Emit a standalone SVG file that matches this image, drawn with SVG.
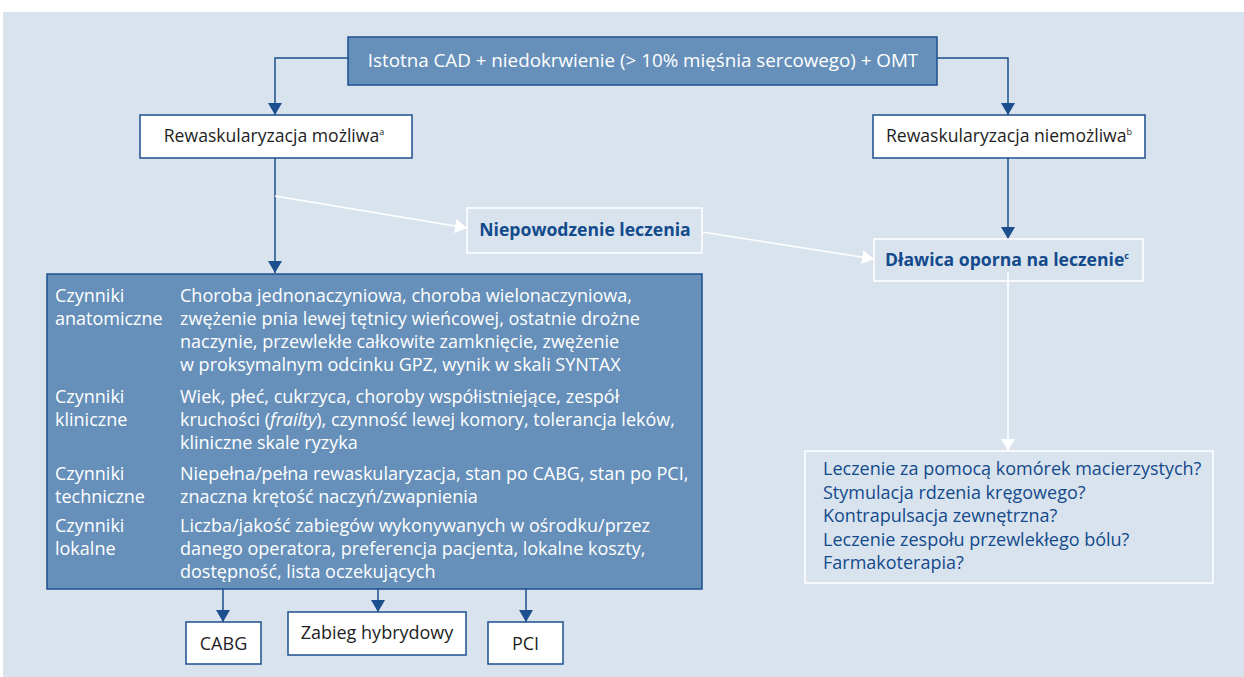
<svg xmlns="http://www.w3.org/2000/svg" width="1244" height="677" viewBox="0 0 1244 677">
<style>
text{font-family:"Open Sans","Noto Sans","DejaVu Sans",sans-serif;font-size:18px}
.dark{fill:#6690b9;stroke:#1d4f8e;stroke-width:1.5}
.white{fill:#ffffff;stroke:#1d4f8e;stroke-width:1.5}
.outl{fill:none;stroke:#ffffff;stroke-width:1.5}
.wt{fill:#ffffff}
.bk{fill:#1e1e1e}
.bl{fill:#134a8c}
.bold{font-weight:bold;font-size:17.6px}
.mid{font-size:17.6px}
.top{font-size:18.8px}
.cb{stroke:#1d4f8e;stroke-width:1.5;fill:none}
.cw{stroke:#ffffff;stroke-width:1.5;fill:none}
.sup{font-size:9px}
</style>
<defs>
<marker id="ab" viewBox="0 0 12 14" refX="12" refY="7" markerWidth="12" markerHeight="14" markerUnits="userSpaceOnUse" orient="auto"><path d="M0,0 L12,7 L0,14 Z" fill="#1d4f8e"/></marker>
<marker id="aw" viewBox="0 0 12 14" refX="12" refY="7" markerWidth="12" markerHeight="14" markerUnits="userSpaceOnUse" orient="auto"><path d="M0,0 L12,7 L0,14 Z" fill="#ffffff"/></marker>
</defs>
<rect x="3" y="12" width="1241" height="665" fill="#d9e3ee"/>
<g id="connectors">
<path class="cb" d="M348,58 H275 V115" marker-end="url(#ab)"/>
<path class="cb" d="M937,58 H1008 V115" marker-end="url(#ab)"/>
<path class="cb" d="M275,158 V273" marker-end="url(#ab)"/>
<path class="cb" d="M1008,158 V239" marker-end="url(#ab)"/>
<path class="cw" d="M275,196 L467,228" marker-end="url(#aw)"/>
<path class="cw" d="M702,232 L874,259" marker-end="url(#aw)"/>
<path class="cw" d="M1008,272 V451" marker-end="url(#aw)"/>
<path class="cb" d="M223,589 V622" marker-end="url(#ab)"/>
<path class="cb" d="M378,589 V612" marker-end="url(#ab)"/>
<path class="cb" d="M526,589 V622" marker-end="url(#ab)"/>
</g>
<g id="start">
<rect class="dark" x="348" y="37" width="589" height="48"/>
<text class="wt top" x="643" y="67" text-anchor="middle">Istotna CAD + niedokrwienie (&gt; 10% mięśnia sercowego) + OMT</text>
</g>
<g id="possible">
<rect class="white" x="140" y="115" width="272" height="43"/>
<text class="bk mid" x="274" y="142" text-anchor="middle">Rewaskularyzacja możliwa<tspan class="sup" dy="-7">a</tspan></text>
</g>
<g id="impossible">
<rect class="white" x="873" y="115" width="272" height="43"/>
<text class="bk mid" x="1009" y="142" text-anchor="middle">Rewaskularyzacja niemożliwa<tspan class="sup" dy="-7">b</tspan></text>
</g>
<g id="failure">
<rect class="outl" x="467" y="208" width="235" height="45"/>
<text class="bl bold" x="585" y="236" text-anchor="middle">Niepowodzenie leczenia</text>
</g>
<g id="refractory">
<rect class="outl" x="874" y="239" width="269" height="42"/>
<text class="bl bold" x="1007" y="266" text-anchor="middle">Dławica oporna na leczenie<tspan class="sup" dy="-7">c</tspan></text>
</g>
<g id="options">
<rect class="outl" x="805" y="451" width="408" height="132"/>
<text class="bl" x="823" y="475">Leczenie za pomocą komórek macierzystych?</text>
<text class="bl" x="823" y="499">Stymulacja rdzenia kręgowego?</text>
<text class="bl" x="823" y="522">Kontrapulsacja zewnętrzna?</text>
<text class="bl" x="823" y="546">Leczenie zespołu przewlekłego bólu?</text>
<text class="bl" x="823" y="569">Farmakoterapia?</text>
</g>
<g id="factors">
<rect class="dark" x="47" y="274" width="655" height="315"/>
<text class="wt" x="55" y="302">Czynniki</text>
<text class="wt" x="55" y="325">anatomiczne</text>
<text class="wt" x="180" y="302">Choroba jednonaczyniowa, choroba wielonaczyniowa,</text>
<text class="wt" x="180" y="325">zwężenie pnia lewej tętnicy wieńcowej, ostatnie drożne</text>
<text class="wt" x="180" y="348">naczynie, przewlekłe całkowite zamknięcie, zwężenie</text>
<text class="wt" x="180" y="371">w proksymalnym odcinku GPZ, wynik w skali SYNTAX</text>
<text class="wt" x="55" y="403">Czynniki</text>
<text class="wt" x="55" y="426">kliniczne</text>
<text class="wt" x="180" y="403">Wiek, płeć, cukrzyca, choroby współistniejące, zespół</text>
<text class="wt" x="180" y="426">kruchości (<tspan font-style="italic">frailty</tspan>), czynność lewej komory, tolerancja leków,</text>
<text class="wt" x="180" y="449">kliniczne skale ryzyka</text>
<text class="wt" x="55" y="480">Czynniki</text>
<text class="wt" x="55" y="503">techniczne</text>
<text class="wt" x="180" y="480">Niepełna/pełna rewaskularyzacja, stan po CABG, stan po PCI,</text>
<text class="wt" x="180" y="503">znaczna krętość naczyń/zwapnienia</text>
<text class="wt" x="55" y="532">Czynniki</text>
<text class="wt" x="55" y="555">lokalne</text>
<text class="wt" x="180" y="532">Liczba/jakość zabiegów wykonywanych w ośrodku/przez</text>
<text class="wt" x="180" y="555">danego operatora, preferencja pacjenta, lokalne koszty,</text>
<text class="wt" x="180" y="578">dostępność, lista oczekujących</text>
</g>
<g id="cabg">
<rect class="white" x="186" y="622" width="75" height="42"/>
<text class="bk" x="223.5" y="650" text-anchor="middle">CABG</text>
</g>
<g id="hybrid">
<rect class="white" x="288" y="612" width="178" height="43"/>
<text class="bk" x="377" y="639" text-anchor="middle">Zabieg hybrydowy</text>
</g>
<g id="pci">
<rect class="white" x="488" y="622" width="75" height="42"/>
<text class="bk" x="525.5" y="650" text-anchor="middle">PCI</text>
</g>
</svg>
